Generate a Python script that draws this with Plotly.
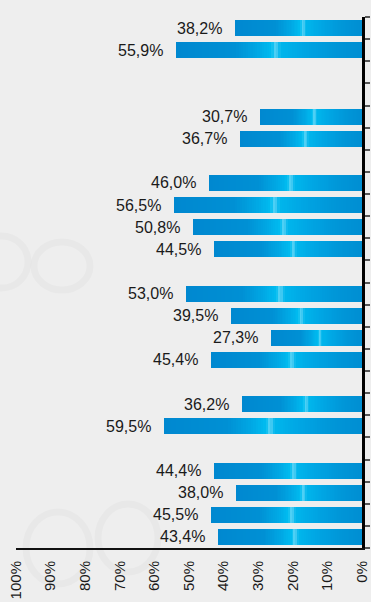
import plotly.graph_objects as go

# ---- data (top to bottom; None = empty slot) ----
values = [38.2, 55.9, None, None, 30.7, 36.7, None, 46.0, 56.5, 50.8, 44.5, None,
          53.0, 39.5, 27.3, 45.4, None, 36.2, 59.5, None, 44.4, 38.0, 45.5, 43.4]
slots = list(range(len(values)))
tick_pct = [0, 10, 20, 30, 40, 50, 60, 70, 80, 90, 100]
tick_text = [f"{p}%" for p in tick_pct]
labels = [None if v is None else f"{v:.1f}".replace(".", ",") + "%" for v in values]

# gradient stops: fraction from the axis (0) to the bar end (1)
grad = [(0.00, (0x00, 0x8E, 0xD2)), (0.15, (0x00, 0x96, 0xD8)), (0.32, (0x00, 0xA6, 0xE4)),
        (0.44, (0x00, 0xB6, 0xEC)), (0.465, (0x60, 0xD4, 0xF6)), (0.485, (0x00, 0xBC, 0xF0)),
        (0.56, (0x00, 0xA8, 0xE4)), (0.68, (0x00, 0x90, 0xD4)), (1.00, (0x00, 0x88, 0xD0))]


def color_at(s):
    for (s0, c0), (s1, c1) in zip(grad, grad[1:]):
        if s0 <= s <= s1:
            f = (s - s0) / (s1 - s0) if s1 > s0 else 0
            c = [round(a + (b - a) * f) for a, b in zip(c0, c1)]
            return f"rgb({c[0]},{c[1]},{c[2]})"
    c = grad[-1][1]
    return f"rgb({c[0]},{c[1]},{c[2]})"


N = 80
fig = go.Figure()
for i in range(N):
    s = i / N
    fig.add_trace(go.Bar(
        y=slots,
        x=[None if v is None else v * (1 - s) for v in values],
        base=[None if v is None else v * s for v in values],
        orientation="h",
        width=0.72,
        marker=dict(color=color_at(s + 0.5 / N), line=dict(width=0)),
        hoverinfo="skip",
        showlegend=False,
    ))

# invisible trace for the percentage scale axis
fig.add_trace(go.Scatter(x=[0, 100], y=[0, 0], xaxis="x2", mode="markers",
                         marker=dict(opacity=0), hoverinfo="skip", showlegend=False))

for v, yv, lab in zip(values, slots, labels):
    if v is None:
        continue
    fig.add_annotation(x=v, y=yv, xref="x", yref="y", text=lab, showarrow=False,
                       xanchor="right", yanchor="middle", xshift=-11,
                       font=dict(family="Liberation Sans, Arial", size=16, color="#1a1a1a"))

# faint decorative rings of the background picture (paper coordinates)
W, H, L, T, PW, PH = 371, 602, 16, 17, 346, 531


def px2paper(x, y):
    return (x - L) / PW, 1 - (y - T) / PH


for cx, cy, rx, ry in [(2, 262, 26, 26), (62, 266, 28, 24), (58, 548, 32, 36), (128, 538, 30, 34)]:
    x0, y0 = px2paper(cx - rx, cy + ry)
    x1, y1 = px2paper(cx + rx, cy - ry)
    fig.add_shape(type="circle", xref="paper", yref="paper", x0=x0, y0=y0, x1=x1, y1=y1,
                  line=dict(color="rgba(0,0,0,0.022)", width=7), layer="below")

fig.update_layout(
    width=W, height=H,
    margin=dict(l=16, r=9, t=17, b=54, autoexpand=False),
    paper_bgcolor="#EEEEEE",
    plot_bgcolor="rgba(0,0,0,0)",
    barmode="overlay",
    bargap=0,
    font=dict(family="Liberation Sans, Arial", color="#1a1a1a"),
    xaxis=dict(range=[104, 0], showticklabels=False, ticks="", showgrid=False,
               zeroline=False, showline=True, linecolor="#111", linewidth=2,
               automargin=False, fixedrange=True),
    xaxis2=dict(range=[100, 0], overlaying="x", anchor="y", side="bottom",
                tickvals=tick_pct, ticktext=tick_text, tickangle=-90,
                showline=False, automargin=False,
                ticks="", ticklabelstandoff=9, showgrid=False, zeroline=False,
                tickfont=dict(size=15, color="#1a1a1a")),
    yaxis=dict(range=[23.5, -0.5], side="right", showline=True, linecolor="#000",
               linewidth=2.5, ticks="outside", ticklen=5, tickwidth=2, tickcolor="#555",
               tickvals=[k - 0.5 for k in range(len(values) + 1)], automargin=False,
               showticklabels=False, showgrid=False, zeroline=False, layer="above traces"),
)

fig.write_html(
    "out.html",
    config={"displayModeBar": False},
    post_script="document.body.style.margin='0';document.body.style.background='#EEEEEE';",
)
